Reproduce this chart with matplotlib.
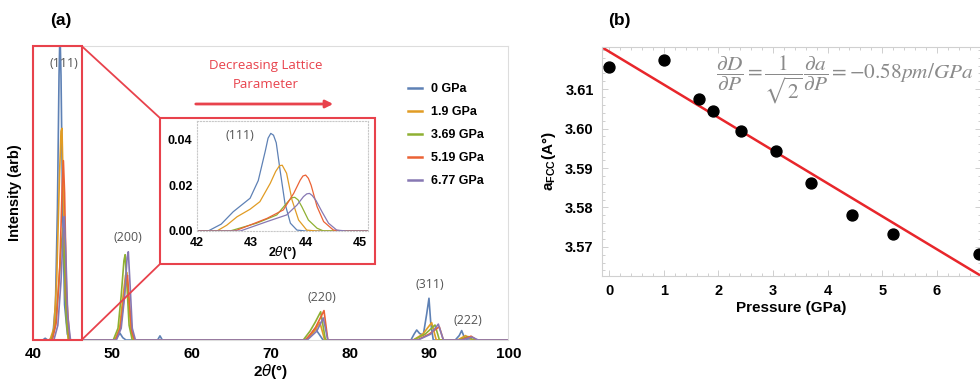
import matplotlib.pyplot as plt
from matplotlib.patches import Rectangle, ConnectionPatch, FancyArrowPatch
import numpy as np

# Дані панелі (a): XRD-спектри, точки (2theta, інтенсивність)
labels = ["0 GPa", "1.9 GPa", "3.69 GPa", "5.19 GPa", "6.77 GPa"]
colors = ["#5E81B5", "#E19C24", "#8FB032", "#EB6235", "#8778B3"]

xrd_0 = [(40.0, 0), (41.2, 0), (41.5, 0.006), (41.8, 0), (42.0, 0), (42.45, 0.01), (42.8, 0.12),
         (43.05, 0.45), (43.25, 0.9), (43.37, 1.05), (43.5, 0.9), (43.7, 0.45), (43.95, 0.12),
         (44.3, 0.02), (44.6, 0),
         (50.2, 0), (50.6, 0.01), (50.95, 0.023), (51.3, 0.008), (51.7, 0),
         (55.7, 0), (56.0, 0.014), (56.3, 0),
         (74.3, 0), (75.0, 0.015), (75.58, 0.04), (76.1, 0.02), (76.6, 0),
         (87.7, 0), (88.1, 0.02), (88.43, 0.034), (88.8, 0.022), (89.26, 0.017), (89.7, 0.09),
         (89.98, 0.142), (90.2, 0.06), (90.52, 0),
         (93.3, 0), (93.8, 0.015), (94.11, 0.032), (94.4, 0.012), (94.8, 0), (100.0, 0)]
xrd_19 = [(40.0, 0), (42.1, 0), (42.6, 0.04), (42.95, 0.2), (43.3, 0.55), (43.5, 0.71), (43.62, 0.72),
          (43.8, 0.5), (44.05, 0.15), (44.4, 0),
          (50.3, 0), (50.9, 0.04), (51.3, 0.14), (51.65, 0.22), (51.8, 0.23), (52.0, 0.15),
          (52.35, 0.03), (52.7, 0),
          (74.5, 0), (75.5, 0.03), (76.2, 0.06), (76.8, 0),
          (88.0, 0), (89.2, 0.02), (90.32, 0.059), (90.9, 0),
          (93.6, 0), (94.6, 0.015), (95.4, 0), (100.0, 0)]
xrd_369 = [(40.0, 0), (42.3, 0), (42.8, 0.05), (43.2, 0.18), (43.55, 0.33), (43.75, 0.38), (43.95, 0.25),
           (44.2, 0.06), (44.5, 0),
           (50.1, 0), (50.7, 0.04), (51.1, 0.15), (51.45, 0.27), (51.6, 0.29), (51.8, 0.2),
           (52.1, 0.05), (52.5, 0),
           (74.1, 0), (74.95, 0.03), (75.6, 0.06), (76.3, 0.096), (76.9, 0),
           (88.0, 0), (89.5, 0.02), (90.74, 0.051), (91.3, 0),
           (93.8, 0), (94.9, 0.012), (95.6, 0), (100.0, 0)]
xrd_519 = [(40.0, 0), (42.4, 0), (42.9, 0.06), (43.35, 0.25), (43.65, 0.52), (43.8, 0.61), (43.95, 0.5),
           (44.2, 0.15), (44.6, 0),
           (50.4, 0), (51.0, 0.04), (51.45, 0.14), (51.75, 0.21), (51.9, 0.22), (52.1, 0.14),
           (52.45, 0.03), (52.8, 0),
           (74.4, 0), (75.6, 0.04), (76.72, 0.10), (77.2, 0),
           (88.5, 0), (90.0, 0.02), (91.28, 0.045), (91.8, 0),
           (94.0, 0), (95.3, 0.013), (96.0, 0), (100.0, 0)]
xrd_677 = [(40.0, 0), (42.6, 0), (43.1, 0.05), (43.5, 0.2), (43.8, 0.38), (43.92, 0.42), (44.1, 0.3),
           (44.35, 0.08), (44.7, 0),
           (50.5, 0), (51.1, 0.04), (51.5, 0.14), (51.85, 0.28), (52.0, 0.30), (52.2, 0.2),
           (52.5, 0.04), (52.9, 0),
           (74.6, 0), (75.8, 0.03), (76.63, 0.075), (77.2, 0),
           (88.6, 0), (90.2, 0.02), (91.16, 0.054), (91.8, 0),
           (94.2, 0), (95.4, 0.01), (96.2, 0), (100.0, 0)]

# Вставка: пік (111)
ins_0 = [(42.0, 0), (42.21, 0), (42.45, 0.003), (42.67, 0.0084), (42.98, 0.0143), (43.13, 0.022),
         (43.26, 0.035), (43.31, 0.0405), (43.36, 0.0426), (43.41, 0.0418), (43.46, 0.0385),
         (43.53, 0.0266), (43.62, 0.0121), (43.72, 0.0034), (43.84, 0.0004), (44.0, 0), (45.15, 0)]
ins_19 = [(42.0, 0), (42.37, 0), (42.55, 0.0025), (42.74, 0.0062), (42.98, 0.0095), (43.16, 0.0128),
          (43.35, 0.0208), (43.45, 0.026), (43.52, 0.0285), (43.57, 0.0287), (43.65, 0.0252),
          (43.75, 0.0135), (43.87, 0.0048), (44.02, 0.0004), (44.2, 0), (45.15, 0)]
ins_369 = [(42.0, 0), (42.61, 0), (43.10, 0.0034), (43.47, 0.007), (43.65, 0.0121), (43.74, 0.0145),
           (43.80, 0.0147), (43.86, 0.0136), (43.93, 0.0106), (44.05, 0.0048), (44.21, 0.0012),
           (44.33, 0), (45.15, 0)]
ins_519 = [(42.0, 0), (42.7, 0), (43.29, 0.0055), (43.59, 0.0092), (43.78, 0.0164), (43.90, 0.0222),
           (43.95, 0.0240), (44.0, 0.0244), (44.05, 0.0230), (44.10, 0.0200), (44.21, 0.0106),
           (44.33, 0.0041), (44.51, 0.0004), (44.7, 0), (45.15, 0)]
ins_677 = [(42.0, 0), (42.8, 0), (43.29, 0.0041), (43.65, 0.007), (43.84, 0.0113), (43.96, 0.015),
           (44.02, 0.0162), (44.07, 0.0164), (44.12, 0.0155), (44.19, 0.0133), (44.30, 0.0084),
           (44.42, 0.0034), (44.57, 0.0004), (44.75, 0), (45.15, 0)]

peak_names = ["(111)", "(200)", "(220)", "(311)", "(222)"]
peak_pos = [(43.8, 0.94), (52.0, 0.347), (76.45, 0.143), (90.1, 0.19), (94.9, 0.068)]

# Дані панелі (b)
pressure = [0.0, 1.0, 1.65, 1.9, 2.42, 3.05, 3.69, 4.45, 5.19, 6.77]
a_fcc = [3.6155, 3.6174, 3.6074, 3.6044, 3.5993, 3.5943, 3.5862, 3.5782, 3.5732, 3.5682]
fit_a0 = 3.6195
fit_slope = -0.00835

W, H = 980, 387
def fx(px):
    return px / W
def fy(py):
    return 1 - py / H

bold = dict(family="Liberation Sans", weight="bold")
red = "#E8424C"

fig = plt.figure(figsize=(9.8, 3.87), dpi=100)

# ---- (a) ----
ax = fig.add_axes([fx(33.3), fy(340), (508.3 - 33.3) / W, (340 - 46) / H])
for data, c, lab in zip([xrd_0, xrd_19, xrd_369, xrd_519, xrd_677], colors, labels):
    xs, ys = zip(*data)
    ax.plot(xs, ys, color=c, lw=1.2, label=lab)
ax.set_xlim(40, 100)
ax.set_ylim(0, 1)
ax.set_yticks([])
ax.set_xticks([40, 50, 60, 70, 80, 90, 100])
ax.tick_params(axis="x", length=0, pad=5)
for t in ax.get_xticklabels():
    t.set_fontproperties(dict(family="Liberation Sans", weight="bold", size=11))
for s in ax.spines.values():
    s.set_color("#dddddd")
    s.set_linewidth(0.8)
ax.set_xlabel(r"2$\theta$(°)", fontsize=11, labelpad=1, **bold)
ax.set_ylabel("Intensity (arb)", fontsize=10.5, labelpad=8, **bold)

for name, (px_, py_) in zip(peak_names, peak_pos):
    ax.text(px_, py_, name, ha="center", va="center", fontsize=9, color="#555555", family="Open Sans")

# червоний прямокутник навколо піку (111)
ax.add_patch(Rectangle((40, 0), 6.1, 1.0, fill=False, ec=red, lw=1.5, clip_on=False, zorder=5))

# рамка вставки
fig.add_artist(Rectangle((fx(160), fy(264)), (375 - 160) / W, (264 - 118) / H,
                         transform=fig.transFigure, fill=False, ec=red, lw=1.5))
for ya, yb in [(1.0, 118), (0.0, 264)]:
    fig.add_artist(ConnectionPatch((46.1, ya), (fx(160), fy(yb)), coordsA=ax.transData,
                                   coordsB=fig.transFigure, color=red, lw=1.3))

# вставка
axi = fig.add_axes([fx(196.7), fy(231), (368.3 - 196.7) / W, (231 - 121) / H])
for data, c in zip([ins_0, ins_19, ins_369, ins_519, ins_677], colors):
    xs, ys = zip(*data)
    axi.plot(xs, ys, color=c, lw=0.9)
axi.set_xlim(42, 45.15)
axi.set_ylim(0, 0.048)
axi.set_xticks([42, 43, 44, 45])
axi.set_yticks([0.0, 0.02, 0.04])
axi.set_yticklabels(["0.00", "0.02", "0.04"])
axi.tick_params(axis="x", length=0, pad=4)
axi.tick_params(axis="y", length=0, pad=3)
for t in axi.get_xticklabels() + axi.get_yticklabels():
    t.set_fontproperties(dict(family="Liberation Sans", weight="bold", size=9))
for s in axi.spines.values():
    s.set_color("#c8c8c8")
    s.set_linestyle(":")
    s.set_linewidth(0.8)
axi.set_xlabel(r"2$\theta$(°)", fontsize=9, labelpad=-3, **bold)
axi.text(42.8, 0.0415, "(111)", ha="center", va="center", fontsize=9, color="#555555", family="Open Sans")

# стрілка і підпис
fig.text(fx(266), fy(75), "Decreasing Lattice\nParameter", ha="center", va="center",
         color=red, fontsize=9.5, family="Open Sans", linespacing=1.55)
fig.add_artist(FancyArrowPatch((fx(193), fy(104)), (fx(336), fy(104)),
               transform=fig.transFigure, arrowstyle="-|>", mutation_scale=11, color=red, lw=2))

# легенда
leg = ax.legend(loc="upper left", bbox_to_anchor=(fx(402), fy(77)), bbox_transform=fig.transFigure,
                frameon=False, handlelength=1.1, handletextpad=0.7, labelspacing=0.88,
                borderpad=0, prop=dict(family="Liberation Sans", weight="bold", size=9))
for l in leg.get_lines():
    l.set_linewidth(1.8)

fig.text(fx(61), fy(20), "(a)", ha="center", va="center", fontsize=12.5, **bold)

# ---- (b) ----
bx = fig.add_axes([fx(602), fy(276), (980 - 602) / W + 0.001, (276 - 47) / H])
px = np.array([-0.2, 7.0])
bx.plot(px, fit_a0 + fit_slope * px, color="#E8262B", lw=1.8, zorder=2)
bx.scatter(pressure, a_fcc, s=62, color="black", zorder=3, clip_on=False)
bx.set_xlim(-0.134, 6.81)
bx.set_ylim(3.5626, 3.6207)
bx.set_xticks([0, 1, 2, 3, 4, 5, 6])
bx.set_yticks([3.57, 3.58, 3.59, 3.60, 3.61])
bx.set_yticklabels(["3.57", "3.58", "3.59", "3.60", "3.61"])
bx.set_xticks(np.arange(0, 7, 0.2), minor=True)
bx.set_yticks(np.arange(3.564, 3.62, 0.002), minor=True)
bx.tick_params(which="both", direction="in", top=True, right=True, color="#c8c8c8", width=0.6)
bx.tick_params(which="major", length=4, pad=6)
bx.tick_params(which="minor", length=2)
for t in bx.get_xticklabels() + bx.get_yticklabels():
    t.set_fontproperties(dict(family="Liberation Sans", weight="bold", size=10.5))
for s in bx.spines.values():
    s.set_color("#d0d0d0")
    s.set_linewidth(0.8)
bx.set_xlabel("Pressure (GPa)", fontsize=11, labelpad=2, **bold)
bx.set_ylabel(r"a$_{\mathregular{FCC}}$(A°)", fontsize=11, labelpad=5, **bold)

fig.text(fx(716), fy(80),
         r"$\dfrac{\partial D}{\partial P}=\dfrac{1}{\sqrt{2}}\dfrac{\partial a}{\partial P}=-0.58pm/GPa$",
         ha="left", va="center", fontsize=15.3, color="#8a8a8a", math_fontfamily="stix")

fig.text(fx(619), fy(20), "(b)", ha="center", va="center", fontsize=12.5, **bold)

fig.savefig("out.png", dpi=100)
